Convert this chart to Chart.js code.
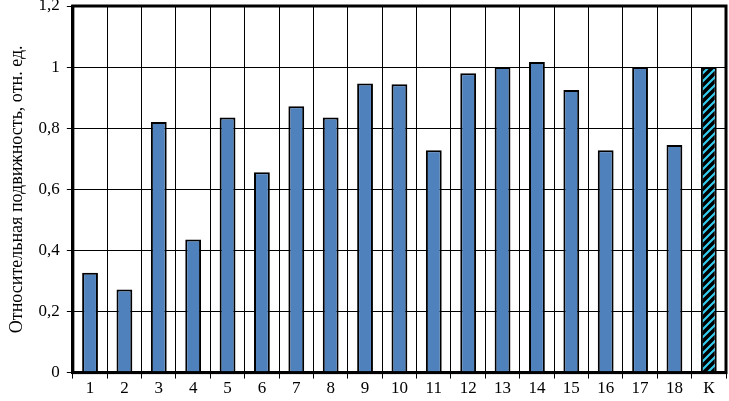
<!DOCTYPE html>
<html>
<head>
<meta charset="utf-8">
<script src="https://cdn.jsdelivr.net/npm/chart.js@4"></script>
<style>
  html, body { margin: 0; padding: 0; background: #fff; }
  #wrap { position: relative; width: 729px; height: 401px; }
</style>
</head>
<body>
<div id="wrap"><canvas id="chart" width="729" height="401"></canvas></div>
<script>
const categories = ['1', '2', '3', '4', '5', '6', '7', '8', '9', '10', '11', '12', '13', '14', '15', '16', '17', '18', 'К'];
const mobility = [0.327, 0.272, 0.82, 0.436, 0.835, 0.656, 0.872, 0.835, 0.946, 0.944, 0.728, 0.98, 1.0, 1.017, 0.925, 0.728, 1.0, 0.745, 1.0];
const yTitle = 'Относительная подвижность, отн. ед.';

const serif = "'Liberation Serif', 'Times New Roman', serif";

// hatch pattern for the reference bar
function makeHatch() {
  const c = document.createElement('canvas');
  c.width = 8; c.height = 8;
  const g = c.getContext('2d');
  g.fillStyle = '#000';
  g.fillRect(0, 0, 8, 8);
  g.strokeStyle = '#33ccee';
  g.lineWidth = 2.2;
  g.beginPath();
  g.moveTo(-2, 10); g.lineTo(10, -2);
  g.moveTo(-6, 6); g.lineTo(6, -6);
  g.moveTo(2, 14); g.lineTo(14, 2);
  g.stroke();
  return g.createPattern(c, 'repeat');
}
const hatch = makeHatch();
const fills = categories.map((c, i) => i === categories.length - 1 ? hatch : '#4f81bd');

const frame = {
  id: 'frame',
  afterDraw(chart) {
    const { ctx, chartArea: a } = chart;
    ctx.save();
    ctx.strokeStyle = '#000';
    ctx.lineWidth = 3;
    ctx.strokeRect(a.left, a.top, a.right - a.left, a.bottom - a.top);
    ctx.restore();
  }
};

new Chart(document.getElementById('chart').getContext('2d'), {
  type: 'bar',
  data: {
    labels: categories,
    datasets: [{
      data: mobility,
      backgroundColor: fills,
      borderColor: '#000',
      borderWidth: 2,
      barPercentage: 0.46,
      categoryPercentage: 1
    }]
  },
  options: {
    responsive: false,
    animation: false,
    layout: { padding: { top: 6, right: 3, left: 6, bottom: 2 } },
    plugins: { legend: { display: false }, tooltip: { enabled: false } },
    scales: {
      x: {
        grid: { offset: true, color: '#000', lineWidth: 1, tickLength: 6 },
        border: { color: '#000', width: 3 },
        ticks: { color: '#000', font: { family: serif, size: 17 }, padding: 0, maxRotation: 0 }
      },
      y: {
        min: 0, max: 1.2,
        grid: { color: '#000', lineWidth: 1, tickLength: 6 },
        border: { color: '#000', width: 3 },
        afterFit: s => { s.paddingTop = 0; s.paddingBottom = 0; },
        ticks: {
          stepSize: 0.2,
          color: '#000',
          padding: 7,
          font: { family: serif, size: 17 },
          callback: v => String(Math.round(v * 10) / 10).replace('.', ',')
        },
        title: {
          display: true, text: yTitle, color: '#000',
          font: { family: serif, size: 18 }, padding: { top: 0, bottom: 4 }
        }
      }
    }
  },
  plugins: [frame]
});
</script>
</body>
</html>
